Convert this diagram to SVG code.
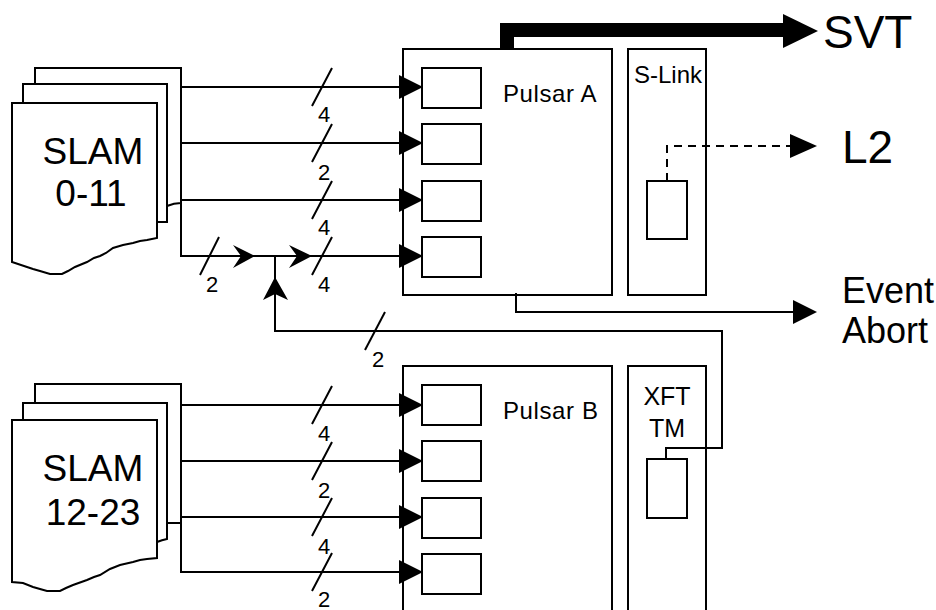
<svg xmlns="http://www.w3.org/2000/svg" width="936" height="610" viewBox="0 0 936 610">
<style>
.s{fill:#fff;stroke:#000;stroke-width:2}
.w{fill:none;stroke:#000;stroke-width:2}
.a{fill:#000;stroke:none}
text{font-family:"Liberation Sans",Arial,sans-serif;fill:#000}
.n{text-anchor:middle}
</style>
<defs>
<marker id="tri" markerUnits="userSpaceOnUse" markerWidth="24" markerHeight="24" refX="24" refY="12" orient="auto">
<path d="M0,0 L24,12 L0,24 Z" fill="#000"/>
</marker>
</defs>
<rect width="936" height="610" fill="#fff"/>

<g id="slam-0-11">
<path class="s" d="M35,206 V68 H181 V203 Q174,203 167,206 Z"/>
<rect class="s" x="23" y="84" width="144" height="138"/>
<path class="s" d="M12,103 H157 V238 L147,240 L140,241 L133,243 L123,245 L113,248 L106,253 L100,256 L94,258 L87,262 L75,267 L68,271 L62,274 L50,274 L40,271 L33,269 L12,262 Z"/>
<text x="93" y="164" font-size="37" text-anchor="middle">SLAM</text>
<text x="91" y="206" font-size="37" text-anchor="middle">0-11</text>
</g>

<g id="slam-12-23">
<path class="s" d="M35,523 V384 H181 V523 H167 Z"/>
<path class="s" d="M23,403 H167 V539 Q162,540 157,542 H23 Z"/>
<path class="s" d="M12,420 H157 V558 L147,559 L140,560 L133,562 L120,565 L110,569 L100,575 L94,577 L87,580 L73,585 L66,588 L60,591 L47,591 L40,589 L33,587 L23,583 L12,582 Z"/>
<text x="93" y="481" font-size="37" text-anchor="middle">SLAM</text>
<text x="93" y="525" font-size="37" text-anchor="middle">12-23</text>
</g>

<g id="pulsar-a">
<rect class="s" x="403" y="49" width="209" height="246"/>
<rect class="s" x="422" y="68" width="59" height="40"/>
<rect class="s" x="422" y="124" width="59" height="40"/>
<rect class="s" x="422" y="181" width="59" height="40"/>
<rect class="s" x="422" y="237" width="59" height="40"/>
<text x="503" y="102" font-size="24" letter-spacing="0.6">Pulsar A</text>
</g>

<g id="s-link">
<rect class="s" x="628" y="49" width="78" height="246"/>
<rect class="s" x="647" y="181" width="40" height="58"/>
<text x="634" y="83" font-size="24">S-Link</text>
</g>

<g id="pulsar-b">
<rect class="s" x="403" y="366" width="209" height="260"/>
<rect class="s" x="422" y="385" width="59" height="40"/>
<rect class="s" x="422" y="441" width="59" height="40"/>
<rect class="s" x="422" y="498" width="59" height="40"/>
<rect class="s" x="422" y="554" width="59" height="40"/>
<text x="503" y="419" font-size="24" letter-spacing="0.6">Pulsar B</text>
</g>

<g id="xft-tm">
<rect class="s" x="628" y="366" width="78" height="260"/>
<rect class="s" x="647" y="459" width="40" height="59"/>
<text x="667" y="405" font-size="25" text-anchor="middle">XFT</text>
<text x="667" y="437" font-size="25" text-anchor="middle">TM</text>
</g>

<g id="svt">
<text x="823" y="48" font-size="46">SVT</text>
</g>
<g id="l2">
<text x="842" y="163" font-size="46">L2</text>
</g>
<g id="event-abort">
<text x="842" y="303" font-size="36">Event</text>
<text x="842" y="343" font-size="36">Abort</text>
</g>

<g id="connectors">
<path class="w" d="M181,87 H423" marker-end="url(#tri)"/>
<path class="w" d="M181,143 H423" marker-end="url(#tri)"/>
<path class="w" d="M181,200 H423" marker-end="url(#tri)"/>
<path class="w" d="M181,87 V256 H423" marker-end="url(#tri)"/>
<path class="w" d="M312,106 L332,68 M312,162 L332,124 M312,219 L332,181 M312,275 L332,237"/>
<text class="n" x="324" y="122" font-size="22">4</text>
<text class="n" x="324" y="180" font-size="22">2</text>
<text class="n" x="324" y="235" font-size="22">4</text>
<text class="n" x="324" y="292" font-size="22">4</text>
<path class="w" d="M200,275 L219,237"/>
<text class="n" x="212" y="292" font-size="22">2</text>
<path class="a" d="M255,256 L233,245 L241,256 L233,268 Z"/>
<path class="a" d="M312,256 L289,245 L297,256 L289,268 Z"/>

<path class="w" d="M666,459 V448 H722 V331 H275 V256"/>
<path class="a" d="M275,277 L288,300 L275,294 L263,300 Z"/>
<path class="w" d="M365,350 L385,312"/>
<text class="n" x="378" y="367" font-size="22">2</text>

<path class="w" d="M181,405 H423" marker-end="url(#tri)"/>
<path class="w" d="M181,461 H423" marker-end="url(#tri)"/>
<path class="w" d="M181,517 H423" marker-end="url(#tri)"/>
<path class="w" d="M181,384 V572 H423" marker-end="url(#tri)"/>
<path class="w" d="M312,424 L332,386 M312,480 L332,442 M312,536 L332,498 M312,591 L332,553"/>
<text class="n" x="324" y="441" font-size="22">4</text>
<text class="n" x="324" y="498" font-size="22">2</text>
<text class="n" x="324" y="554" font-size="22">4</text>
<text class="n" x="324" y="607" font-size="22">2</text>

<path d="M507,49 V30 H786" fill="none" stroke="#000" stroke-width="14" stroke-linejoin="miter"/>
<path class="a" d="M783,14 L818,31 L783,48 Z"/>

<path class="w" d="M667,181 V146 H792" stroke-dasharray="8,6"/>
<path class="a" d="M790,134 L817,146 L790,158 Z"/>

<path class="w" d="M516,293 V312 H795"/>
<path class="a" d="M793,300 L817,312 L793,324 Z"/>
</g>
</svg>
